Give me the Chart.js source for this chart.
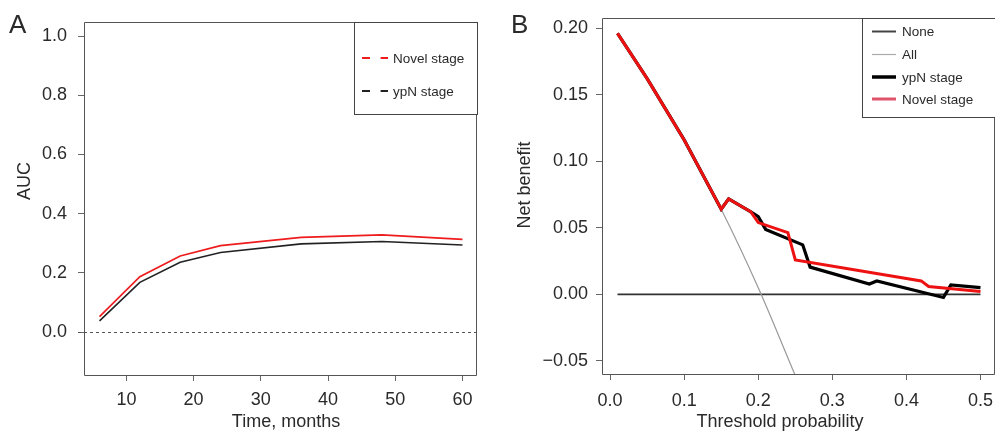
<!DOCTYPE html>
<html><head><meta charset="utf-8">
<script src="https://cdn.jsdelivr.net/npm/chart.js@4.4.1/dist/chart.umd.min.js"></script>
<style>
html,body{margin:0;padding:0;background:#fff;width:995px;height:432px;overflow:hidden}
#a{position:absolute;left:0;top:0}
#b{position:absolute;left:500px;top:0}
</style></head><body>
<canvas id="a" width="500" height="432"></canvas>
<canvas id="b" width="495" height="432"></canvas>
<script>
// ---- Panel A: time-dependent AUC ----
const months = [6, 12, 18, 24, 36, 48, 60];
const aucNovel = [0.052, 0.187, 0.257, 0.292, 0.320, 0.328, 0.313];
const aucYpN = [0.038, 0.168, 0.236, 0.269, 0.298, 0.306, 0.294];
const aucTicksX = [10, 20, 30, 40, 50, 60];
const aucTicksY = [0.0, 0.2, 0.4, 0.6, 0.8, 1.0];

// ---- Panel B: decision curve ----
const thrNovel = [0.01, 0.05, 0.10, 0.15, 0.16, 0.19, 0.20, 0.24, 0.25, 0.42, 0.43, 0.50];
const nbNovel = [0.196, 0.162, 0.116, 0.064, 0.0717, 0.0620, 0.0539, 0.0464, 0.0259, 0.0101, 0.0059, 0.0021];
const thrYpN = [0.01, 0.05, 0.10, 0.15, 0.16, 0.19, 0.20, 0.21, 0.26, 0.27, 0.35, 0.36, 0.45, 0.46, 0.50];
const nbYpN = [0.196, 0.162, 0.116, 0.064, 0.0717, 0.0620, 0.0584, 0.0488, 0.0372, 0.0205, 0.0078, 0.0101, -0.0023, 0.0071, 0.0051];
const thrAll = [0.01, 0.05, 0.10, 0.15, 0.20, 0.25];
const nbAll = [0.196, 0.162, 0.116, 0.064, 0.005, -0.061];
const thrNone = [0.01, 0.50];
const nbNone = [0, 0];
const dcaTicksX = [0, 0.1, 0.2, 0.3, 0.4, 0.5];
const dcaTicksY = [-0.05, 0, 0.05, 0.10, 0.15, 0.20];

const FONT = "'Liberation Sans', Arial, Helvetica, sans-serif";
const TXT = '#2a2a2a';
const AX = '#666';
const pts = (xs, ys) => xs.map((x, i) => ({x: x, y: ys[i]}));

const deco = {
  id: 'deco',
  afterDraw(chart, args, o) {
    const {ctx, chartArea: a} = chart;
    ctx.save();
    if (o.zeroLine) {
      const y = Math.round(chart.scales.y.getPixelForValue(0)) + 0.5;
      ctx.setLineDash([3, 3]); ctx.strokeStyle = '#555'; ctx.lineWidth = 1;
      ctx.beginPath(); ctx.moveTo(a.left - 7, y); ctx.lineTo(a.right, y); ctx.stroke();
      ctx.setLineDash([]);
    }
    // box
    ctx.strokeStyle = '#555'; ctx.lineWidth = 1;
    ctx.beginPath();
    ctx.moveTo(a.left - 0.5, a.top - 0.5); ctx.lineTo(a.right - 0.5, a.top - 0.5);
    ctx.lineTo(a.right - 0.5, a.bottom + 0.5); ctx.lineTo(a.left - 0.5, a.bottom + 0.5);
    ctx.closePath(); ctx.stroke();
    // legend
    const L = o.legend;
    ctx.fillStyle = '#fff';
    ctx.fillRect(L.box[0], L.box[1], L.box[2] - L.box[0], L.box[3] - L.box[1]);
    ctx.strokeStyle = '#444'; ctx.lineWidth = 1;
    ctx.strokeRect(L.box[0] + 0.5, L.box[1] - 0.5, L.box[2] - L.box[0], L.box[3] - L.box[1]);
    ctx.font = '13.5px ' + FONT; ctx.textBaseline = 'middle'; ctx.textAlign = 'left';
    L.items.forEach(it => {
      ctx.strokeStyle = it.color; ctx.lineWidth = it.width; ctx.setLineDash(it.dash || []);
      ctx.beginPath(); ctx.moveTo(L.x0, it.y); ctx.lineTo(L.x1, it.y); ctx.stroke();
      ctx.setLineDash([]);
      ctx.fillStyle = TXT; ctx.fillText(it.label, L.tx, it.y + 1);
    });
    // axis titles
    ctx.fillStyle = TXT; ctx.textAlign = 'center'; ctx.textBaseline = 'middle';
    ctx.font = '18px ' + FONT;
    o.titles.forEach(t => {
      ctx.save(); ctx.translate(t.x, t.y); ctx.rotate(t.rot || 0); ctx.fillText(t.text, 0, 0); ctx.restore();
    });
    // panel letter
    ctx.font = '26px ' + FONT; ctx.textAlign = 'left'; ctx.textBaseline = 'alphabetic';
    ctx.fillText(o.letter.text, o.letter.x, o.letter.y);
    ctx.restore();
  }
};

function scaleX(min, max, ticks, fmt, h, pad) {
  return {
    type: 'linear', min: min, max: max,
    afterBuildTicks: s => { s.ticks = ticks.map(v => ({value: v})); },
    afterFit: s => { s.height = h; s.paddingLeft = 0; s.paddingRight = 0; },
    ticks: {font: {family: FONT, size: 18}, color: TXT, padding: pad, maxRotation: 0, autoSkip: false, callback: fmt},
    grid: {drawOnChartArea: false, drawTicks: true, tickLength: 6, color: AX},
    border: {display: false}
  };
}
function scaleY(min, max, ticks, fmt, w, pad) {
  return {
    type: 'linear', min: min, max: max,
    afterBuildTicks: s => { s.ticks = ticks.map(v => ({value: v})); },
    afterFit: s => { s.width = w; s.paddingTop = 0; s.paddingBottom = 0; },
    ticks: {font: {family: FONT, size: 18}, color: TXT, padding: pad, autoSkip: false, callback: fmt},
    grid: {drawOnChartArea: false, drawTicks: true, tickLength: 7, color: AX},
    border: {display: false}
  };
}

new Chart(document.getElementById('a'), {
  type: 'line',
  data: {datasets: [
    {label: 'Novel stage', data: pts(months, aucNovel), borderColor: '#ee1c1c', borderWidth: 1.7, pointRadius: 0, tension: 0},
    {label: 'ypN stage', data: pts(months, aucYpN), borderColor: '#222', borderWidth: 1.6, pointRadius: 0, tension: 0}
  ]},
  options: {
    responsive: false, animation: false, devicePixelRatio: 1,
    layout: {padding: {top: 23, right: 23, left: 0, bottom: 0}},
    scales: {
      x: scaleX(3.84, 62.16, aucTicksX, v => String(v), 57, 8),
      y: scaleY(-0.145, 1.044, aucTicksY, v => v.toFixed(1), 85, 11)
    },
    plugins: {
      legend: {display: false}, tooltip: {enabled: false},
      deco: {
        zeroLine: true,
        legend: {box: [354, 23, 477, 115], x0: 362, x1: 388, tx: 393, items: [
          {label: 'Novel stage', y: 58, color: '#ee1c1c', width: 2, dash: [8, 10.6]},
          {label: 'ypN stage', y: 91, color: '#222', width: 2, dash: [8, 10.6]}
        ]},
        titles: [
          {text: 'AUC', x: 25, y: 181, rot: -Math.PI / 2},
          {text: 'Time, months', x: 286, y: 422}
        ],
        letter: {text: 'A', x: 9, y: 33}
      }
    }
  },
  plugins: [deco]
});

new Chart(document.getElementById('b'), {
  type: 'line',
  data: {datasets: [
    {label: 'None', order: 3, data: pts(thrNone, nbNone), borderColor: '#333', borderWidth: 1.8, pointRadius: 0},
    {label: 'All', order: 2, data: pts(thrAll, nbAll), borderColor: '#999', borderWidth: 1.2, pointRadius: 0, cubicInterpolationMode: 'monotone'},
    {label: 'ypN stage', order: 1, data: pts(thrYpN, nbYpN), borderColor: '#000', borderWidth: 3.2, pointRadius: 0, tension: 0},
    {label: 'Novel stage', order: 0, data: pts(thrNovel, nbNovel), borderColor: '#ee1111', borderWidth: 3, pointRadius: 0, tension: 0}
  ]},
  options: {
    responsive: false, animation: false, devicePixelRatio: 1,
    layout: {padding: {top: 19, right: 0, left: 0, bottom: 0}},
    scales: {
      x: scaleX(-0.0096, 0.5196, dcaTicksX, v => v.toFixed(1), 58, 10),
      y: scaleY(-0.0598, 0.2068, dcaTicksY, v => (v < 0 ? '\u2212' + Math.abs(v).toFixed(2) : v.toFixed(2)), 103, 8)
    },
    plugins: {
      legend: {display: false}, tooltip: {enabled: false},
      deco: {
        zeroLine: false,
        legend: {box: [362, 19, 500, 118], x0: 372, x1: 396, tx: 402, items: [
          {label: 'None', y: 31.5, color: '#444', width: 2},
          {label: 'All', y: 54.5, color: '#aaa', width: 1.2},
          {label: 'ypN stage', y: 77, color: '#000', width: 3.5},
          {label: 'Novel stage', y: 99, color: '#df536b', width: 3}
        ]},
        titles: [
          {text: 'Net benefit', x: 25, y: 185, rot: -Math.PI / 2},
          {text: 'Threshold probability', x: 280, y: 422}
        ],
        letter: {text: 'B', x: 11, y: 33}
      }
    }
  },
  plugins: [deco]
});
</script>
</body></html>
